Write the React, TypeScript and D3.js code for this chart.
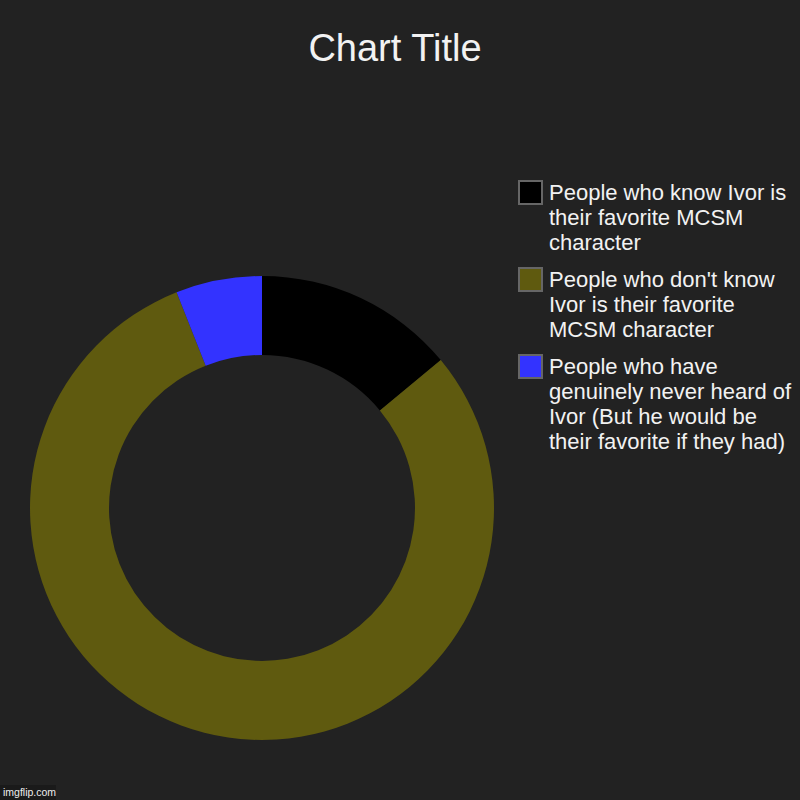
import { useEffect, useRef } from "react";
import * as d3 from "d3";

const categories = [
  "People who know Ivor is their favorite MCSM character",
  "People who don't know Ivor is their favorite MCSM character",
  "People who have genuinely never heard of Ivor (But he would be their favorite if they had)",
];
const legendLines = [
  ["People who know Ivor is", "their favorite MCSM", "character"],
  ["People who don't know", "Ivor is their favorite", "MCSM character"],
  ["People who have", "genuinely never heard of", "Ivor (But he would be", "their favorite if they had)"],
];
const values = [14, 80, 6];
const colors = ["#000000", "#5f5a0f", "#3333ff"];

export default function App() {
  const ref = useRef<SVGSVGElement>(null);

  useEffect(() => {
    const svg = d3.select(ref.current);
    svg.selectAll("*").remove();
    const w = 800,
      h = 800,
      cx = 262,
      cy = 508,
      outer = 232,
      inner = 153;

    svg.append("rect").attr("width", w).attr("height", h).attr("fill", "#222222");

    svg
      .append("text")
      .attr("x", 395)
      .attr("y", 61)
      .attr("text-anchor", "middle")
      .attr("font-family", "Liberation Sans, Arial, sans-serif")
      .attr("font-size", 38)
      .attr("fill", "#f2f2f2")
      .text("Chart Title");

    const data = categories.map((c, i) => ({ c, v: values[i], i }));
    const pie = d3
      .pie<{ c: string; v: number; i: number }>()
      .value((d) => d.v)
      .sort(null);
    const arc = d3
      .arc<d3.PieArcDatum<{ c: string; v: number; i: number }>>()
      .innerRadius(inner)
      .outerRadius(outer);

    svg
      .append("g")
      .attr("transform", `translate(${cx},${cy})`)
      .selectAll("path")
      .data(pie(data))
      .join("path")
      .attr("d", arc)
      .attr("fill", (d) => colors[d.data.i]);

    const lineH = 25;
    const legend = svg.append("g").attr("font-family", "Liberation Sans, Arial, sans-serif");
    let y = 180;
    legendLines.forEach((lines, i) => {
      const g = legend.append("g").attr("transform", `translate(0,${y})`);
      g.append("rect")
        .attr("x", 519)
        .attr("y", 1)
        .attr("width", 23)
        .attr("height", 23)
        .attr("fill", colors[i])
        .attr("stroke", "#666666")
        .attr("stroke-width", 2);
      const t = g
        .append("text")
        .attr("font-size", 22)
        .attr("fill", "#f2f2f2");
      lines.forEach((l, j) => {
        t.append("tspan").attr("x", 549).attr("y", 20 + j * lineH).text(l);
      });
      y += lines.length * lineH + 12;
    });

    const wm = svg.append("g");
    wm.append("rect").attr("x", 0).attr("y", 785).attr("width", 56).attr("height", 15).attr("fill", "#1a1a1a");
    wm.append("text")
      .attr("x", 3)
      .attr("y", 796)
      .attr("font-family", "Liberation Sans, Arial, sans-serif")
      .attr("font-size", 10.5)
      .attr("fill", "#eeeeee")
      .text("imgflip.com");
  }, []);

  return (
    <svg
      ref={ref}
      width={800}
      height={800}
      style={{ position: "absolute", left: 0, top: 0, display: "block" }}
    />
  );
}
